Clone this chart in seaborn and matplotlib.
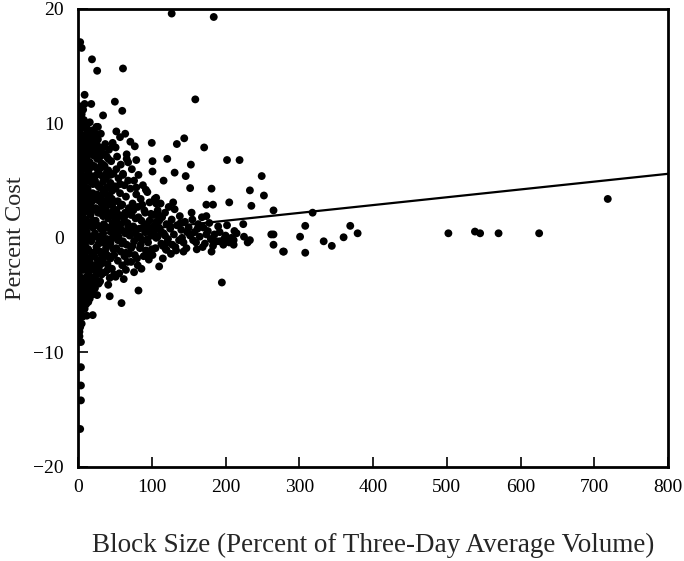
import matplotlib
matplotlib.use("Agg")
import matplotlib.pyplot as plt
import seaborn as sns
import pandas as pd

# ---- data (Block size %, percent cost) ----
colA_x = [1,3,2,5,1,4,7,2,6,3,1,8,5,2,7,4,1,6,3,9,2,5,8,1,4,6,2,7,3,5,1,8,4,2,6,3,7,1,5,2,4,6,1,3,2,4,1,3,2,1,4,6,8,9,3,7,9,8,9,6]
colA_y = [10.9,10.1,9.4,9.0,8.6,8.1,8.4,7.6,7.2,6.9,6.3,6.6,5.9,5.5,5.1,4.8,4.3,4.0,3.6,3.3,3.0,2.6,2.2,1.9,1.5,1.1,0.8,0.4,0.1,-0.3,-0.6,-0.9,-1.3,-1.7,-2.0,-2.4,-2.8,-3.1,-3.5,-3.9,-4.3,-4.7,-5.1,-5.6,-6.0,-6.5,-7.0,-7.6,-8.2,-9.1,10.5,9.6,7.8,5.4,-1.0,-3.8,-1.5,0.9,4.5,-5.6]

colB_x = [10,13,17,11,15,19,12,16,10,14,18,11,20,13,16,10,19,12,15,17,11,14,20,12,16,18,10,13,19,15,11,17,14,12,18,10,15,13,20,11,16,19,14,17,12]
colB_y = [9.8,9.2,8.8,8.2,7.9,7.4,7.0,6.6,6.1,5.8,5.4,5.0,4.7,4.3,3.9,3.5,3.2,2.8,2.4,2.0,1.6,1.2,0.9,0.5,0.1,-0.3,-0.7,-1.1,-1.4,-1.8,-2.2,-2.6,-3.0,-3.4,-3.8,-4.2,-4.6,-5.1,-4.9,-5.8,-2.0,1.4,6.3,3.0,-0.2]

colC_x = [22,27,31,24,29,34,21,26,32,23,28,33,21,25,30,35,22,27,32,24,29,34,21,26,31,23,28,33,25,30,22,27,35,24,29,32,21,26,23,28,20,31,34,25,30]
colC_y = [8.9,8.6,9.1,8.0,7.6,7.9,7.2,6.9,6.5,6.2,5.8,5.4,5.1,4.7,4.4,4.0,3.7,3.3,3.0,2.6,2.2,1.9,1.5,1.1,0.8,0.4,0.0,-0.4,-0.8,-1.2,-1.6,-2.0,-1.7,-2.4,-2.9,-3.2,-3.5,-3.9,-4.4,-4.0,-4.9,-2.3,2.7,5.5,6.1]

colD_x = [37,42,47,39,45,36,41,48,38,44,50,36,40,46,43,49,37,41,47,39,45,50,36,42,48,38,44,40,46,37,43,49,41,45,39,47]
colD_y = [8.2,7.7,8.0,7.1,6.7,6.3,5.9,5.6,5.2,4.8,4.5,4.1,3.7,3.4,2.9,2.5,2.1,1.7,1.3,0.9,0.5,0.2,-0.2,-0.6,-1.0,-1.4,-1.8,-2.3,-2.7,-3.0,-3.5,-3.2,-4.1,-0.1,4.4,3.0]

colE_x = [53,58,66,52,61,55,68,63,51,57,65,54,60,69,52,56,62,67,53,59,64,70,55,61,66,52,58,63,69,54,60,65,56,62,51,67,57,64]
colE_y = [7.1,6.4,6.9,6.0,5.6,5.2,5.0,4.6,4.3,3.9,3.6,3.2,2.9,2.6,2.4,2.0,1.7,1.3,1.0,0.7,0.4,0.9,0.1,-0.3,-0.6,-0.9,-1.2,-1.6,-1.4,-2.0,-2.4,-2.8,-3.1,-3.6,-3.4,-2.1,4.7,2.2]

colF_x = [73,82,76,88,94,71,79,85,97,74,81,90,99,72,78,86,93,75,83,91,98,71,80,87,95,74,84,92,77,89,72,81,96,76,86,100]
colF_y = [6.0,5.5,5.0,4.6,4.0,4.3,3.8,3.4,3.1,3.0,2.7,2.4,2.1,2.0,1.7,1.5,1.2,1.0,0.8,0.5,0.7,0.3,0.0,-0.2,-0.4,-0.7,-0.9,-1.1,-1.5,-1.6,-2.1,-2.4,-1.9,-3.0,-2.7,0.2]

colG_x = [104,112,123,108,118,131,102,114,127,138,106,120,134,145,110,125,140,103,116,130,148,108,122,137,113,128,143,105,119,133,101,126,115,139,150]
colG_y = [3.4,3.0,2.7,2.4,2.2,2.5,2.0,1.8,1.6,1.9,1.4,1.2,1.1,1.4,0.9,0.8,0.7,0.6,0.4,0.3,0.5,0.1,-0.1,-0.2,-0.5,-0.6,-0.4,-0.9,-1.0,-1.1,-1.5,-1.4,-1.8,1.3,0.9]

colH_x = [155,163,170,158,176,185,165,192,180,200,160,172,188,208,215,225,197,168,152,178,230]
colH_y = [1.6,1.2,0.9,0.5,0.6,0.3,0.1,0.5,-0.1,0.2,-0.4,-0.5,-0.3,0.0,0.4,0.1,-0.6,1.8,0.2,1.3,-0.4]

core_x = [4,9,14,20,26, 3,8,13,18,23,30,36,41, 5,10,16,21,27,33,39,44, 2,7,12,17,23,28,34,40,46,
          4,9,14,20,26,31,37,43,48, 1,6,11,16,22,27,33,38,44,50, 3,8,13,18,24,29,35,40,46,
          2,7,12,17,23,28,34,39,44, 4,9,14,20,26,32,38,42, 1,6,11,17,22,28,34,40,
          3,8,13,18,24,30, 5,9,16,2]
core_y = [8.6,8.9,8.5,8.3,8.1, 7.3,7.6,7.5,7.7,7.4,7.1,7.3,6.9, 6.2,6.5,6.1,6.3,6.0,6.2,5.7,5.5,
          5.2,4.9,5.3,4.9,5.0,4.5,4.9,4.4,4.1, 3.8,4.1,3.6,3.9,3.8,3.5,3.2,3.6,3.2,
          2.5,2.9,2.4,2.7,2.5,2.2,2.5,2.4,2.0,1.8, 1.2,1.6,1.0,1.3,1.5,1.0,1.2,0.9,0.7,
          0.2,-0.2,0.3,-0.1,0.1,-0.5,0.4,-0.1,-0.5, -1.2,-1.5,-1.0,-1.3,-1.1,-1.5,-0.9,-1.6,
          -2.4,-2.7,-2.6,-2.3,-2.8,-2.6,-2.1,-2.8, -4.0,-3.6,-3.9,-4.3,-3.3,-3.8, -5.0,-5.4,-5.3,-6.5]

band_x = [47,52,56,60,63,68,72,75,78,82,85,88,91,94,97,100,103,106,109,112,115,49,54,58,65,70,80,87,93,99,
          110,118,121,124,96,84,76,66,58,50, 132,141,147,156,162,169,174,183,190,198,205,212]
band_y = [2.3,1.6,0.6,-0.5,1.9,1.0,-0.9,2.4,0.4,1.8,-0.6,0.9,2.2,-0.1,1.5,-1.0,1.0,0.0,2.0,0.6,-0.7,-1.5,-0.2,2.8,-1.3,0.2,-1.8,2.9,-1.4,0.4,
          1.5,0.2,-0.4,1.1,0.9,0.1,-0.3,0.5,1.2,0.8, -0.8,0.0,-0.9,-0.2,0.8,-0.8,0.3,-0.7,1.0,-0.1,-0.4,0.6]

edge_x = [3,7,11,14,19,22,26,9,5,15,12,2,6, 2,5,8,12,16,20,25,7]
edge_y = [-4.8,-4.4,-4.9,-5.6,-3.6,-4.4,-5.0,-6.2,-7.5,-3.3,-6.8,-8.6,-6.9, 11.5,10.8,10.3,9.6,10.1,9.4,9.7,11.2]

out_x = [127,184,3,5,19,26,61,9,159,9,18,50,60,34,4,4,27,24,52,64,57,47,51,71,77,100,134,144,171,
         66,79,68,101,121,153,202,219,61,101,131,146,116,249,79,92,152,181,233,252,106,106,129,174,183,
         205,235,265,154,174,202,224,265,233,262,265,278,211,211,183,192,181,161,143,120,110,195,82,59,43,
         20,20,3,2,3,4,4,4,4,3,
         318,308,301,279,308,333,344,360,369,379,502,538,545,570,625,718]
out_y = [19.6,19.3,17.1,16.6,15.6,14.6,14.8,12.5,12.1,11.7,11.7,11.9,11.1,10.7,10.5,9.8,9.7,9.1,9.3,9.1,8.8,8.3,7.9,8.4,8.0,8.3,8.2,8.7,7.9,
         7.3,6.8,6.6,6.7,6.9,6.4,6.8,6.8,5.5,5.8,5.7,5.4,5.0,5.4,4.4,4.2,4.35,4.3,4.15,3.7,3.5,3.0,3.1,2.9,2.9,
         3.1,2.8,2.4,2.2,1.9,1.1,1.2,0.3,-0.2,0.3,-0.6,-1.2,-0.2,-0.6,-0.3,-0.3,-1.2,-1.0,-1.2,-1.05,-2.5,-3.9,-4.6,-5.7,-5.1,
         -4.9,-6.75,-6.0,-7.0,-7.8,-9.1,-11.3,-12.9,-14.2,-16.7,
         2.2,1.05,0.1,-1.2,-1.3,-0.3,-0.7,0.05,1.05,0.4,0.4,0.55,0.4,0.4,0.4,3.4]

line_x = [0, 800]
line_y = [0.13, 5.6]

xticks = [0, 100, 200, 300, 400, 500, 600, 700, 800]
yticks = [-20, -10, 0, 10, 20]

xs = colA_x + colB_x + colC_x + colD_x + colE_x + colF_x + colG_x + colH_x + core_x + band_x + edge_x + out_x
ys = colA_y + colB_y + colC_y + colD_y + colE_y + colF_y + colG_y + colH_y + core_y + band_y + edge_y + out_y
df = pd.DataFrame({"size": xs, "cost": ys})
ldf = pd.DataFrame({"x": line_x, "y": line_y})

sns.set_style("ticks")
plt.rcParams['font.family'] = ['Liberation Serif', 'DejaVu Serif']

fig = plt.figure(figsize=(6.84, 5.61), dpi=100)
ax = fig.add_axes([0.114, 0.168, 0.863, 0.816])

sns.scatterplot(data=df, x="size", y="cost", color="black", s=32,
                edgecolor="none", linewidth=0, ax=ax, legend=False)
sns.lineplot(data=ldf, x="x", y="y", color="black", linewidth=1.6, ax=ax)

ax.set_xlim(0, 800)
ax.set_ylim(-20, 20)
ax.set_xticks(xticks)
ax.set_yticks(yticks)
ax.set_yticklabels(["\u221220", "\u221210", "0", "10", "20"])
ax.tick_params(axis="both", direction="in", length=7, width=1.2,
               labelsize=14, colors="black")
ax.tick_params(axis="x", pad=9)
ax.tick_params(axis="y", pad=10)
for sp in ax.spines.values():
    sp.set_linewidth(2)
    sp.set_color("black")

ax.set_xlabel("Block Size (Percent of Three-Day Average Volume)", fontsize=19.5, labelpad=26)
ax.set_ylabel("Percent Cost", fontsize=17.5)
ax.yaxis.set_label_coords(-0.088, 0.5)

fig.savefig("out.png", dpi=100)
